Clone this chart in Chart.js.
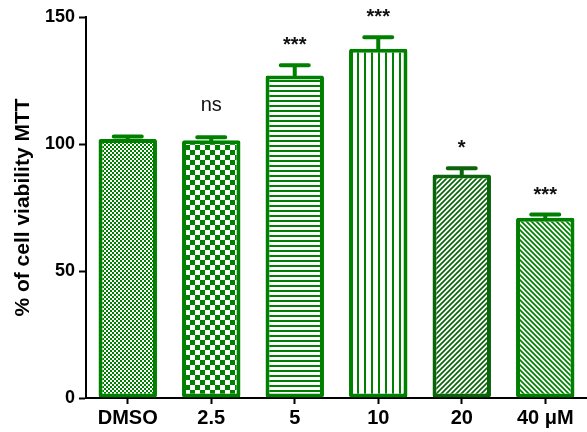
<!DOCTYPE html>
<html>
<head>
<meta charset="utf-8">
<script src="https://cdn.jsdelivr.net/npm/chart.js@4/dist/chart.umd.min.js"></script>
<style>
  body { margin: 0; background: #fff; }
  canvas { display: block; }
</style>
</head>
<body>
<canvas id="mttChart" width="587" height="432"></canvas>
<script>
var groups = ['DMSO', '2.5', '5', '10', '20', '40 \u03bcM'];
var viability = [102, 101.5, 127, 137.5, 88, 71];
var sem = [1, 1.2, 4, 4.5, 2.5, 1.2];
var significance = ['', 'ns', '***', '***', '*', '***'];
var yTicks = [0, 50, 100, 150];

var green = '#008000';
var darkGreen = '#0a650a';

function makePattern(kind, color) {
  var c = document.createElement('canvas');
  var g = c.getContext('2d');
  var s;
  if (kind === 'fineCheck') {
    s = 4; c.width = s; c.height = s;
    g.fillStyle = '#fff'; g.fillRect(0, 0, s, s);
    g.fillStyle = color;
    g.fillRect(0, 0, 2, 2); g.fillRect(2, 2, 2, 2);
  } else if (kind === 'check') {
    s = 10; c.width = s; c.height = s;
    g.fillStyle = '#fff'; g.fillRect(0, 0, s, s);
    g.fillStyle = color;
    g.fillRect(0, 0, 5, 5); g.fillRect(5, 5, 5, 5);
  } else if (kind === 'hlines') {
    c.width = 5; c.height = 5;
    g.fillStyle = '#fff'; g.fillRect(0, 0, 5, 5);
    g.fillStyle = color; g.fillRect(0, 0, 5, 2);
  } else if (kind === 'vlines') {
    c.width = 7; c.height = 7;
    g.fillStyle = '#fff'; g.fillRect(0, 0, 7, 7);
    g.fillStyle = color; g.fillRect(0, 0, 2, 7);
  } else {
    s = 5; c.width = s; c.height = s;
    g.fillStyle = '#fff'; g.fillRect(0, 0, s, s);
    g.strokeStyle = color; g.lineWidth = 1.7;
    g.beginPath();
    if (kind === 'diagUp') {
      g.moveTo(-1, s + 1); g.lineTo(s + 1, -1);
      g.moveTo(-1, 1); g.lineTo(1, -1);
      g.moveTo(s - 1, s + 1); g.lineTo(s + 1, s - 1);
    } else {
      g.moveTo(-1, -1); g.lineTo(s + 1, s + 1);
      g.moveTo(s - 1, -1); g.lineTo(s + 1, 1);
      g.moveTo(-1, s - 1); g.lineTo(1, s + 1);
    }
    g.stroke();
  }
  return g.createPattern(c, 'repeat');
}

var barColors = [green, green, green, green, darkGreen, green];
var fills = [
  makePattern('fineCheck', green),
  makePattern('check', green),
  makePattern('hlines', green),
  makePattern('vlines', green),
  makePattern('diagUp', darkGreen),
  makePattern('diagDown', green)
];

var errorBars = {
  id: 'errorBars',
  afterDatasetsDraw: function(chart) {
    var ctx = chart.ctx;
    var yScale = chart.scales.y;
    var bars = chart.getDatasetMeta(0).data;
    ctx.save();
    bars.forEach(function(bar, i) {
      var top = yScale.getPixelForValue(viability[i] + sem[i]);
      ctx.strokeStyle = barColors[i];
      ctx.lineWidth = 4;
      ctx.lineCap = 'round';
      ctx.beginPath();
      ctx.moveTo(bar.x, bar.y);
      ctx.lineTo(bar.x, top);
      ctx.moveTo(bar.x - 14, top);
      ctx.lineTo(bar.x + 14, top);
      ctx.stroke();
      if (significance[i]) {
        var isNs = significance[i] === 'ns';
        ctx.fillStyle = '#111';
        ctx.textAlign = 'center';
        ctx.textBaseline = 'alphabetic';
        ctx.font = (isNs ? '' : 'bold ') + '20px "Liberation Sans", Arial, sans-serif';
        ctx.fillText(significance[i], bar.x, top - (isNs ? 26 : 14));
      }
    });
    ctx.restore();
  }
};

var ctx = document.getElementById('mttChart').getContext('2d');
var chart = new Chart(ctx, {
  type: 'bar',
  data: {
    labels: groups,
    datasets: [{
      data: viability,
      backgroundColor: fills,
      borderColor: barColors,
      borderWidth: 4,
      borderSkipped: false,
      borderRadius: 2,
      barPercentage: 0.7,
      categoryPercentage: 1.0
    }]
  },
  options: {
    responsive: false,
    animation: false,
    devicePixelRatio: 1,
    layout: { padding: { top: 17, right: 0, left: 0, bottom: 0 } },
    plugins: {
      legend: { display: false },
      tooltip: { enabled: false }
    },
    scales: {
      x: {
        grid: {
          offset: false,
          drawOnChartArea: false,
          drawTicks: true,
          tickLength: 6,
          tickColor: '#000',
          tickWidth: 2
        },
        border: { display: true, color: '#000', width: 2 },
        ticks: {
          color: '#000',
          padding: 2,
          font: { family: '"Liberation Sans", Arial, sans-serif', size: 20, weight: 'bold' }
        },
        afterFit: function(scale) { scale.height = 34; }
      },
      y: {
        min: 0,
        max: 150,
        afterBuildTicks: function(scale) {
          scale.ticks = yTicks.map(function(v) { return { value: v }; });
        },
        grid: {
          drawOnChartArea: false,
          drawTicks: true,
          tickLength: 7,
          tickColor: '#000',
          tickWidth: 2
        },
        border: { display: true, color: '#000', width: 2 },
        ticks: {
          color: '#000',
          padding: 4,
          font: { family: '"Liberation Sans", Arial, sans-serif', size: 18, weight: 'bold' }
        },
        title: {
          display: true,
          text: '% of cell viability MTT',
          color: '#000',
          padding: { top: 11, bottom: 0 },
          font: { family: '"Liberation Sans", Arial, sans-serif', size: 21, weight: 'bold' }
        },
        afterFit: function(scale) { scale.width = 86; }
      }
    }
  },
  plugins: [errorBars]
});
</script>
</body>
</html>
